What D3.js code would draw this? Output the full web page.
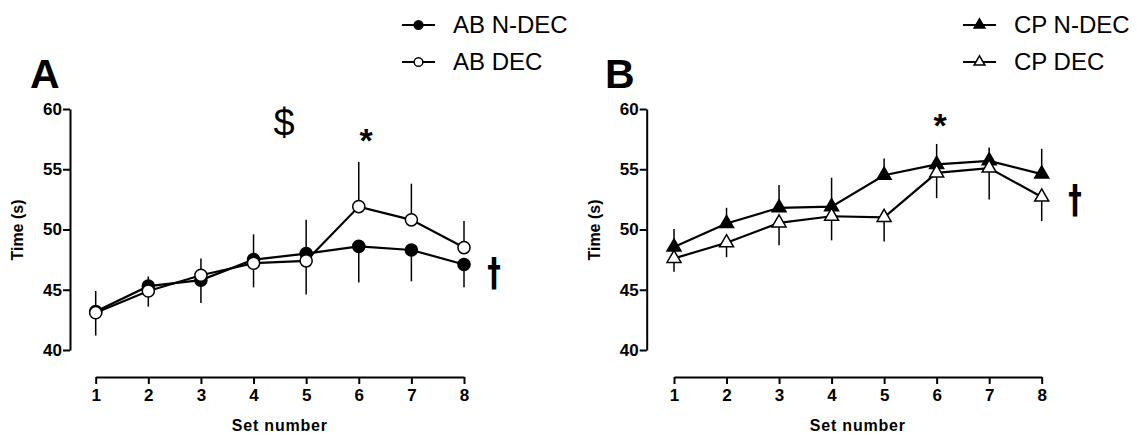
<!DOCTYPE html>
<html lang="en">
<head>
<meta charset="utf-8">
<title>Set number vs time</title>
<script src="https://cdn.jsdelivr.net/npm/d3@7"></script>
<style>
  body { margin: 0; background: #fff; }
  svg text { font-family: "Liberation Sans", Arial, sans-serif; fill: #000; }
  .axis path, .axis line { stroke: #000; stroke-width: 2px; }
  .axis text { font-size: 17px; font-weight: bold; }
</style>
</head>
<body>
<script>
// data
var setNumbers = [1, 2, 3, 4, 5, 6, 7, 8];
var yTicks = [40, 45, 50, 55, 60];

var abNdec    = [43.2, 45.3, 45.8, 47.5, 48.0, 48.6, 48.3, 47.1];
var abNdecErr = [2.0, 1.7, 1.9, 2.3, 3.4, 3.0, 2.6, 1.9];   // drawn downward
var abDec     = [43.1, 44.9, 46.2, 47.2, 47.4, 51.9, 50.8, 48.5];
var abDecErr  = [1.8, 1.2, 1.4, 2.4, 3.4, 3.7, 3.0, 2.2];   // drawn upward

var cpNdec    = [48.55, 50.5, 51.8, 51.9, 54.5, 55.4, 55.7, 54.6];
var cpNdecErr = [1.5, 1.3, 1.9, 2.4, 1.4, 1.7, 1.1, 2.1];   // drawn upward
var cpDec     = [47.6, 48.9, 50.55, 51.1, 51.0, 54.7, 55.1, 52.7];
var cpDecErr  = [1.1, 1.2, 1.85, 2.0, 2.0, 2.1, 2.6, 2.0];  // drawn downward

var w = 1137, h = 435;

var svg = d3.select("body").append("svg")
    .attr("width", w)
    .attr("height", h);

function drawMarker(g, shape, filled, x, y, size) {
  var sym = shape === "circle" ? d3.symbolCircle : d3.symbolTriangle;
  g.append("path")
    .attr("d", d3.symbol().type(sym).size(size)())
    .attr("transform", "translate(" + x + "," + y + ")")
    .attr("fill", filled ? "#000" : "#fff")
    .attr("stroke", "#000")
    .attr("stroke-width", 1.5);
}

function drawPanel(p) {
  var xScale = d3.scaleLinear().domain([1, 8]).range([p.x0, p.x1]);
  var yScale = d3.scaleLinear().domain([40, 60]).range([350, 109]);

  var g = svg.append("g");

  // y axis
  g.append("g")
    .attr("class", "axis")
    .attr("transform", "translate(" + p.yAxisX + ",0)")
    .call(d3.axisLeft(yScale).tickValues(yTicks).tickSize(7).tickSizeOuter(0).tickPadding(1)
      .tickFormat(d3.format("d")));

  // x axis
  g.append("g")
    .attr("class", "axis")
    .attr("transform", "translate(0,377)")
    .call(d3.axisBottom(xScale).tickValues(setNumbers).tickSize(7).tickSizeOuter(0).tickPadding(5)
      .tickFormat(d3.format("d")));

  g.selectAll(".axis .domain").attr("stroke-width", 2.5);

  // axis titles
  g.append("text")
    .attr("transform", "translate(" + (p.yAxisX - 47) + ",230) rotate(-90)")
    .attr("text-anchor", "middle")
    .attr("font-size", "16px")
    .attr("font-weight", "bold")
    .text("Time (s)");

  g.append("text")
    .attr("x", (p.x0 + p.x1) / 2)
    .attr("y", 431)
    .attr("text-anchor", "middle")
    .attr("font-size", "16px")
    .attr("font-weight", "bold")
    .attr("letter-spacing", "0.8px")
    .text("Set number");

  // panel letter
  g.append("text")
    .attr("x", p.letterX)
    .attr("y", 88)
    .attr("font-size", "41px")
    .attr("font-weight", "bold")
    .text(p.letter);

  // error bars
  p.series.forEach(function(s) {
    g.selectAll(null)
      .data(s.values)
      .enter()
      .append("line")
      .attr("x1", function(d, i) { return xScale(setNumbers[i]); })
      .attr("x2", function(d, i) { return xScale(setNumbers[i]); })
      .attr("y1", function(d) { return yScale(d); })
      .attr("y2", function(d, i) { return yScale(d + s.dir * s.err[i]); })
      .attr("stroke", "#000")
      .attr("stroke-width", 1.5);
  });

  // lines
  var line = d3.line()
    .x(function(d, i) { return xScale(setNumbers[i]); })
    .y(function(d) { return yScale(d); });

  p.series.forEach(function(s) {
    g.append("path")
      .datum(s.values)
      .attr("d", line)
      .attr("fill", "none")
      .attr("stroke", "#000")
      .attr("stroke-width", 2.2);
  });

  // markers
  p.series.forEach(function(s) {
    s.values.forEach(function(d, i) {
      drawMarker(g, p.shape, s.filled, xScale(setNumbers[i]), yScale(d), p.markerSize);
    });
  });

  // legend
  p.series.forEach(function(s, k) {
    var ly = 25 + k * 37;
    g.append("line")
      .attr("x1", p.legendX).attr("x2", p.legendX + 33)
      .attr("y1", ly).attr("y2", ly)
      .attr("stroke", "#000").attr("stroke-width", 2.2);
    drawMarker(g, p.shape, s.filled, p.legendX + 16.5, ly, p.legendMarker);
    g.append("text")
      .attr("x", p.legendX + 51)
      .attr("y", ly + 8)
      .attr("font-size", "24px")
      .text(s.name);
  });

  // significance symbols
  p.notes.forEach(function(n) {
    var t = g.append("text")
      .attr("transform", "translate(" + n.x + "," + n.y + ")" + (n.stretch ? " scale(0.8,1.15)" : ""))
      .attr("text-anchor", "middle")
      .attr("font-size", n.size + "px")
      .attr("font-weight", n.bold ? "bold" : "normal")
      .text(n.t);
    if (n.font) t.style("font-family", n.font).style("fill", "#000");
  });
}

drawPanel({
  letter: "A", letterX: 30,
  yAxisX: 70, x0: 95.7, x1: 464,
  shape: "circle", markerSize: 115, legendMarker: 60,
  legendX: 402,
  series: [
    { name: "AB N-DEC", values: abNdec, err: abNdecErr, dir: -1, filled: true },
    { name: "AB DEC", values: abDec, err: abDecErr, dir: 1, filled: false }
  ],
  notes: [
    { t: "$", x: 284, y: 136, size: 38, bold: false },
    { t: "*", x: 366, y: 152, size: 34, bold: true },
    { t: "\u2020", x: 494, y: 286, size: 34, bold: true, font: "'DejaVu Sans'", stretch: true }
  ]
});

drawPanel({
  letter: "B", letterX: 605,
  yAxisX: 646.7, x0: 674, x1: 1041.7,
  shape: "triangle", markerSize: 85, legendMarker: 50,
  legendX: 963,
  series: [
    { name: "CP N-DEC", values: cpNdec, err: cpNdecErr, dir: 1, filled: true },
    { name: "CP DEC", values: cpDec, err: cpDecErr, dir: -1, filled: false }
  ],
  notes: [
    { t: "*", x: 940, y: 137, size: 34, bold: true },
    { t: "\u2020", x: 1075, y: 213, size: 34, bold: true, font: "'DejaVu Sans'", stretch: true }
  ]
});
</script>
</body>
</html>
